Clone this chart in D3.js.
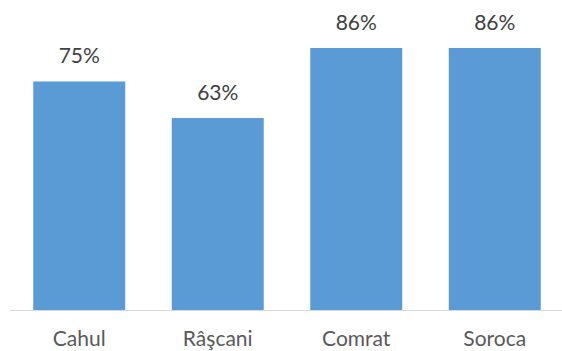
<!DOCTYPE html>
<html>
<head>
<meta charset="utf-8">
<script src="https://cdn.jsdelivr.net/npm/d3@7"></script>
<style>
  body { margin: 0; background: #fff; }
  svg { display: block; }
</style>
</head>
<body>
<svg width="562" height="351"></svg>
<script>
var categories = ["Cahul", "Râşcani", "Comrat", "Soroca"];
var values = [75, 63, 86, 86];

var svg = d3.select("svg"),
    width = +svg.attr("width"),
    height = +svg.attr("height");

var x = d3.scaleBand()
    .domain(categories)
    .range([10, 564])
    .paddingInner(0.336)
    .paddingOuter(0.168);

var y = d3.scaleLinear()
    .domain([0, 100])
    .range([310, 5.3]);

// bars
svg.append("g")
  .selectAll("rect")
  .data(values)
  .enter().append("rect")
    .attr("x", function(d, i) { return x(categories[i]); })
    .attr("y", function(d) { return y(d); })
    .attr("width", x.bandwidth())
    .attr("height", function(d) { return y(0) - y(d); })
    .attr("fill", "#5B9BD5");

// baseline
svg.append("line")
    .attr("x1", 10).attr("x2", width)
    .attr("y1", y(0) + 0.5).attr("y2", y(0) + 0.5)
    .attr("stroke", "#D9D9D9")
    .attr("stroke-width", 1);

// value labels
svg.append("g")
  .selectAll("text")
  .data(values)
  .enter().append("text")
    .attr("x", function(d, i) { return x(categories[i]) + x.bandwidth() / 2; })
    .attr("y", function(d) { return y(d) - 18; })
    .attr("text-anchor", "middle")
    .attr("font-family", "Lato, sans-serif")
    .attr("font-size", "21px")
    .attr("fill", "#404040")
    .text(function(d) { return d + "%"; });

// category labels
svg.append("g")
  .selectAll("text")
  .data(categories)
  .enter().append("text")
    .attr("x", function(d) { return x(d) + x.bandwidth() / 2; })
    .attr("y", 346)
    .attr("text-anchor", "middle")
    .attr("font-family", "Lato, sans-serif")
    .attr("font-size", "21px")
    .attr("fill", "#595959")
    .text(function(d) { return d; });
</script>
</body>
</html>
